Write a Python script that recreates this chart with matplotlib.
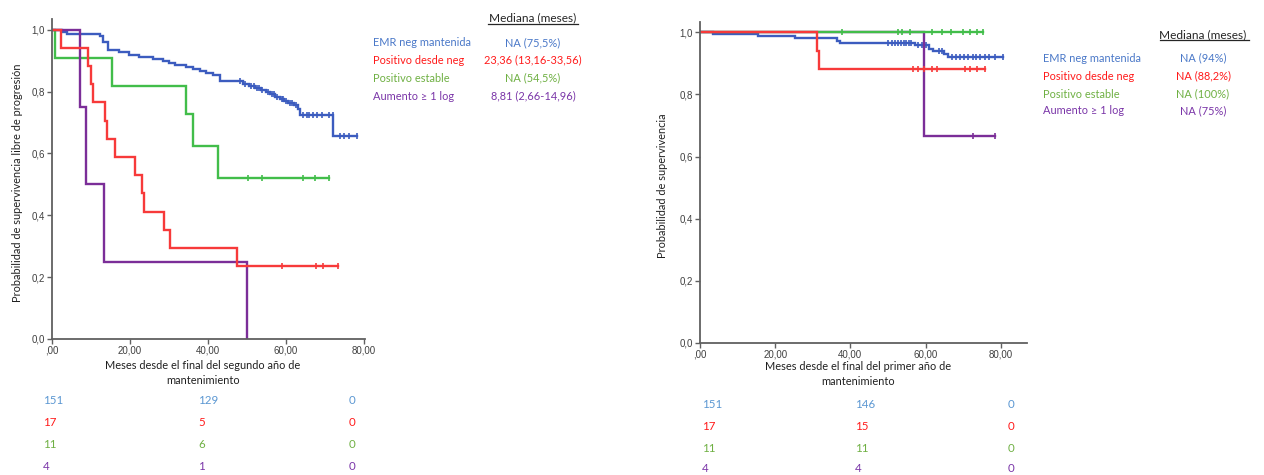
import matplotlib
matplotlib.use('Agg')
import matplotlib.pyplot as plt
from matplotlib.lines import Line2D
from matplotlib.ticker import FuncFormatter

W, H = 1264, 475

# ---- group names / colours ----
groups = ['EMR neg mantenida', 'Positivo desde neg', 'Positivo estable', u'Aumento \u2265 1 log']
line_colors = ['#3c5cbf', '#f73a3a', '#42bd4a', '#7b2e98']
text_colors = ['#4a78c8', '#ff1a1a', '#6fb043', '#7a35a8']
table_colors = ['#5b97d2', '#ff1a1a', '#6fb043', '#7a35a8']

# ---- left panel: supervivencia libre de progresion ----
blue_t_L = [0, 2.5, 3.8, 12.3, 13.2, 14.4, 17.2, 19.8, 22.4, 25.8, 28.5, 30.0, 31.5, 34.5, 36.2,
            37.9, 39.6, 41.4, 43.0, 49.0, 50.5, 52.0, 53.5, 54.8, 56.0, 57.3, 58.5, 59.6, 60.6,
            62.0, 63.0, 63.6, 72.2]
blue_s_L = [1.0, 0.993, 0.987, 0.980, 0.960, 0.934, 0.927, 0.920, 0.913, 0.907, 0.900, 0.893,
            0.887, 0.880, 0.873, 0.866, 0.860, 0.853, 0.833, 0.826, 0.819, 0.812, 0.805, 0.798,
            0.791, 0.784, 0.777, 0.770, 0.763, 0.757, 0.745, 0.725, 0.655]
blue_end_L = 78.2
blue_cens_L = [48.3, 49.6, 51.0, 51.8, 52.6, 53.2, 54.0, 55.3, 56.4, 57.0, 57.8, 58.9, 59.2, 60.0,
               61.0, 61.5, 62.5, 64.3, 65.3, 66.0, 67.0, 68.0, 69.2, 71.0, 72.0, 73.8, 75.0,
               76.2, 78.2]

red_t_L = [0, 2.3, 9.3, 9.9, 10.5, 13.6, 14.0, 16.2, 21.3, 23.2, 23.5, 28.8, 30.3, 47.5]
red_s_L = [1.0, 0.941, 0.882, 0.824, 0.765, 0.706, 0.647, 0.588, 0.529, 0.471, 0.412, 0.353,
           0.294, 0.235]
red_end_L = 73.3
red_cens_L = [58.9, 67.7, 69.6, 73.3]

green_t_L = [0, 0.8, 15.3, 34.5, 36.2, 42.6]
green_s_L = [1.0, 0.909, 0.818, 0.727, 0.623, 0.52]
green_end_L = 71.0
green_cens_L = [50.3, 53.8, 64.4, 67.4, 71.0]

purple_t_L = [0, 7.2, 8.7, 13.3, 50.1]
purple_s_L = [1.0, 0.75, 0.5, 0.25, 0.0]
purple_end_L = 50.1
purple_cens_L = []

median_L = ['NA (75,5%)', '23,36 (13,16-33,56)', 'NA (54,5%)', '8,81 (2,66-14,96)']
risk_L = [['151', '129', '0'], ['17', '5', '0'], ['11', '6', '0'], ['4', '1', '0']]

# ---- right panel: supervivencia global ----
blue_t_R = [0, 3.5, 15.5, 25.2, 36.5, 37.3, 57.1, 61.0, 62.0, 65.0, 66.0]
blue_s_R = [1.0, 0.993, 0.987, 0.980, 0.973, 0.967, 0.960, 0.947, 0.940, 0.930, 0.920]
blue_end_R = 80.5
blue_cens_R = [50.0, 51.0, 52.0, 52.8, 53.5, 54.2, 54.8, 55.5, 56.2, 58.0, 59.0, 60.2, 63.5,
               64.5, 67.0, 68.2, 69.2, 70.3, 71.3, 72.5, 73.5, 74.5, 75.7, 77.0, 78.5, 80.5]

red_t_R = [0, 31.0, 31.6]
red_s_R = [1.0, 0.941, 0.882]
red_end_R = 75.8
red_cens_R = [56.8, 58.1, 59.5, 61.7, 63.0, 70.5, 71.9, 73.6, 75.8]

green_t_R = [0]
green_s_R = [1.0]
green_end_R = 75.4
green_cens_R = [37.7, 52.8, 53.7, 55.9, 61.6, 64.3, 66.9, 70.0, 71.9, 73.6, 75.4]

purple_t_R = [0, 59.6]
purple_s_R = [1.0, 0.667]
purple_end_R = 78.5
purple_cens_R = [72.5, 78.5]

median_R = ['NA (94%)', 'NA (88,2%)', 'NA (100%)', 'NA (75%)']
risk_R = [['151', '146', '0'], ['17', '15', '0'], ['11', '11', '0'], ['4', '4', '0']]


def fx(x):
    return x / float(W)

def fy(y):
    return 1 - y / float(H)


def km(ax, t, s, end, cens, color):
    tt = list(t) + [end]
    ss = list(s) + [s[-1]]
    ax.step(tt, ss, where='post', color=color, lw=1.7, solid_joinstyle='miter')
    if cens:
        # survival value at each censoring time
        cv = []
        for c in cens:
            v = s[0]
            for ti, si in zip(t, s):
                if ti <= c:
                    v = si
            cv.append(v)
        ax.plot(cens, cv, ls='none', marker='|', ms=5, mew=1.2, color=color)


def style_axes(ax, xmax):
    ax.set_xlim(0, xmax)
    ax.set_ylim(0, 1.033)
    for sp in ['top', 'right']:
        ax.spines[sp].set_visible(False)
    for sp in ['left', 'bottom']:
        ax.spines[sp].set_color('#606060')
        ax.spines[sp].set_linewidth(1.3)
    ax.set_xticks([0, 20, 40, 60, 80])
    ax.set_yticks([0, 0.2, 0.4, 0.6, 0.8, 1.0])
    ax.xaxis.set_major_formatter(FuncFormatter(
        lambda v, p: ',00' if v == 0 else ('%.2f' % v).replace('.', ',')))
    ax.yaxis.set_major_formatter(FuncFormatter(lambda v, p: ('%.1f' % v).replace('.', ',')))
    ax.tick_params(direction='out', length=3.5, width=1, color='#606060',
                   labelsize=7, labelcolor='#404040', pad=1.5)
    for lab in ax.get_xticklabels() + ax.get_yticklabels():
        lab.set_family('Liberation Sans')


fig = plt.figure(figsize=(W / 100.0, H / 100.0), dpi=100)
fig.patch.set_facecolor('white')

# left axes
axL = fig.add_axes([fx(52), fy(339), fx(365) - fx(52), fy(19) - fy(339)])
km(axL, blue_t_L, blue_s_L, blue_end_L, blue_cens_L, line_colors[0])
km(axL, green_t_L, green_s_L, green_end_L, green_cens_L, line_colors[2])
km(axL, purple_t_L, purple_s_L, purple_end_L, purple_cens_L, line_colors[3])
km(axL, red_t_L, red_s_L, red_end_L, red_cens_L, line_colors[1])
style_axes(axL, 80.3)
axL.set_ylim(0, 1.035)

# right axes
axR = fig.add_axes([fx(700), fy(343), fx(1027) - fx(700), fy(22) - fy(343)])
km(axR, blue_t_R, blue_s_R, blue_end_R, blue_cens_R, line_colors[0])
km(axR, purple_t_R, purple_s_R, purple_end_R, purple_cens_R, line_colors[3])
km(axR, green_t_R, green_s_R, green_end_R, green_cens_R, line_colors[2])
km(axR, red_t_R, red_s_R, red_end_R, red_cens_R, line_colors[1])
style_axes(axR, 87)

# axis titles
lab_kw = dict(family='Lato', fontsize=7.9, color='#202020')
fig.text(fx(18), fy(183), u'Probabilidad de supervivencia libre de progresión',
         rotation=90, ha='center', va='center', **lab_kw)
fig.text(fx(662), fy(186), 'Probabilidad de supervivencia',
         rotation=90, ha='center', va='center', **lab_kw)
fig.text(fx(203), fy(373), u'Meses desde el final del segundo año de\nmantenimiento',
         ha='center', va='center', linespacing=1.4, **lab_kw)
fig.text(fx(858), fy(374), u'Meses desde el final del primer año de\nmantenimiento',
         ha='center', va='center', linespacing=1.4, **lab_kw)

# median boxes
txt_kw = dict(family='Lato', fontsize=7.9)


def median_block(x_lab, x_val, y_head, ys, values, ul):
    fig.text(fx(x_val), fy(y_head), 'Mediana (meses)', ha='center', va='center',
             color='#262626', family='Lato', fontsize=8.6)
    fig.add_artist(Line2D([fx(ul[0]), fx(ul[1])], [fy(ul[2]), fy(ul[2])],
                          color='#262626', lw=0.9))
    for i in range(len(groups)):
        fig.text(fx(x_lab), fy(ys[i]), groups[i], ha='left', va='center',
                 color=text_colors[i], **txt_kw)
        fig.text(fx(x_val), fy(ys[i]), values[i], ha='center', va='center',
                 color=text_colors[i], **txt_kw)


median_block(373, 533, 18, [43, 60, 78, 96], median_L, (488, 578, 24))
median_block(1043, 1203, 35, [58, 76, 94, 111], median_R, (1160, 1249, 40))

# numbers at risk
def risk_table(xs, ys, rows):
    for i, row in enumerate(rows):
        for j, v in enumerate(row):
            fig.text(fx(xs[j]), fy(ys[i]), v, ha='left', va='center',
                     color=table_colors[i], family='Lato', fontsize=8.3)


risk_table([43, 198, 349], [401, 422, 444, 466], risk_L)
risk_table([702, 855, 1008], [405, 427, 448, 469], risk_R)

fig.savefig('out.png', dpi=100, facecolor='white')
